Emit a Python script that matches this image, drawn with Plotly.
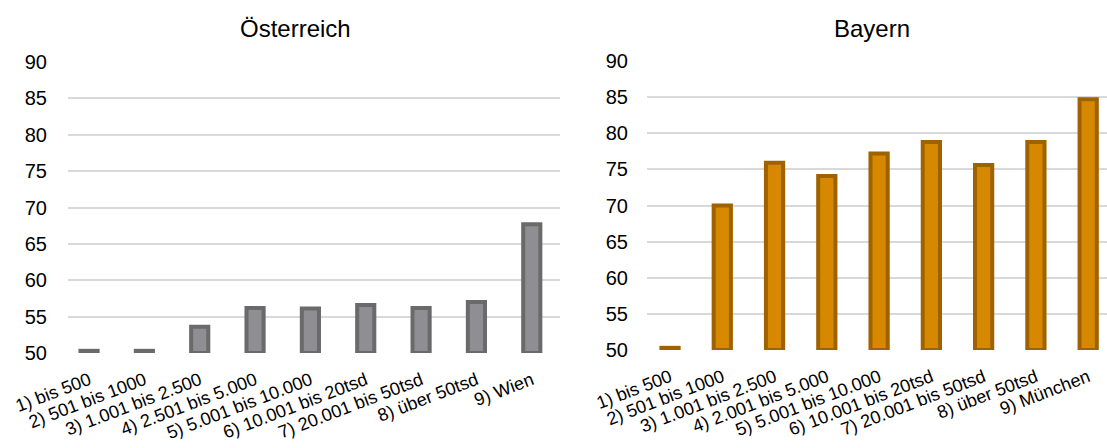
import plotly.graph_objects as go

cats_at = ["1) bis 500", "2) 501 bis 1000", "3) 1.001 bis 2.500", "4) 2.501 bis 5.000",
           "5) 5.001 bis 10.000", "6) 10.001 bis 20tsd", "7) 20.001 bis 50tsd",
           "8) über 50tsd", "9) Wien"]
vals_at = [50.3, 50.3, 53.6, 56.2, 56.1, 56.6, 56.2, 57.0, 67.7]

cats_by = ["1) bis 500", "2) 501 bis 1000", "3) 1.001 bis 2.500", "4) 2.001 bis 5.000",
           "5) 5.001 bis 10.000", "6) 10.001 bis 20tsd", "7) 20.001 bis 50tsd",
           "8) über 50tsd", "9) München"]
vals_by = [50.3, 70.0, 75.9, 74.1, 77.2, 78.8, 75.6, 78.8, 84.7]

yticks = [50, 55, 60, 65, 70, 75, 80, 85, 90]

W, H = 1107, 448
T, B = 61, 95
PH = H - T - B

fig = go.Figure()
fig.add_trace(go.Bar(x=cats_at, y=[v - 50 for v in vals_at], base=50, xaxis="x", yaxis="y",
                     width=0.31,
                     marker=dict(color="#8e8e93", line=dict(color="#6a6a6a", width=4)),
                     showlegend=False, hoverinfo="skip"))
fig.add_trace(go.Bar(x=cats_by, y=[v - 50 for v in vals_by], base=50, xaxis="x2", yaxis="y2",
                     width=0.33,
                     marker=dict(color="#d68800", line=dict(color="#9e6200", width=4)),
                     showlegend=False, hoverinfo="skip"))

fam = "Liberation Sans, Arial, sans-serif"
yfont = dict(family=fam, size=20, color="#000000")
xfont = dict(family=fam, size=18, color="#000000")
yax = dict(range=[50, 90], tickvals=yticks, showgrid=True, gridcolor="#d9d9d9", gridwidth=2,
           zeroline=False, showline=False, ticks="outside",
           tickcolor="rgba(0,0,0,0)", tickfont=yfont, automargin=False)
xax = dict(tickangle=-21, showline=False, showgrid=False, zeroline=False, tickfont=xfont,
           ticks="outside", ticklen=9, tickcolor="rgba(0,0,0,0)", automargin=False)

fig.update_layout(
    width=W, height=H,
    margin=dict(l=0, r=0, t=T, b=B),
    plot_bgcolor="white", paper_bgcolor="white",
    font=xfont,
    xaxis=dict(domain=[68 / W, 560 / W], anchor="y", range=[-0.38, 8.51], **xax),
    yaxis=dict(anchor="x", domain=[0, 1 - 1 / PH], ticklen=16, **yax),
    xaxis2=dict(domain=[647 / W, 1.0], anchor="y2", range=[-0.44, 8.36], **xax),
    yaxis2=dict(anchor="x2", domain=[3 / PH, 1], ticklen=14, **yax),
    annotations=[
        dict(text="Österreich", x=295 / W, y=1 + (T - 28) / PH, xref="paper", yref="paper",
             showarrow=False, xanchor="center", yanchor="middle",
             font=dict(family=fam, size=24, color="#000000")),
        dict(text="Bayern", x=872 / W, y=1 + (T - 28) / PH, xref="paper", yref="paper",
             showarrow=False, xanchor="center", yanchor="middle",
             font=dict(family=fam, size=24, color="#000000")),
    ],
)

fig.write_html("out.html", config={"displayModeBar": False},
               post_script="document.body.style.margin='0';")
